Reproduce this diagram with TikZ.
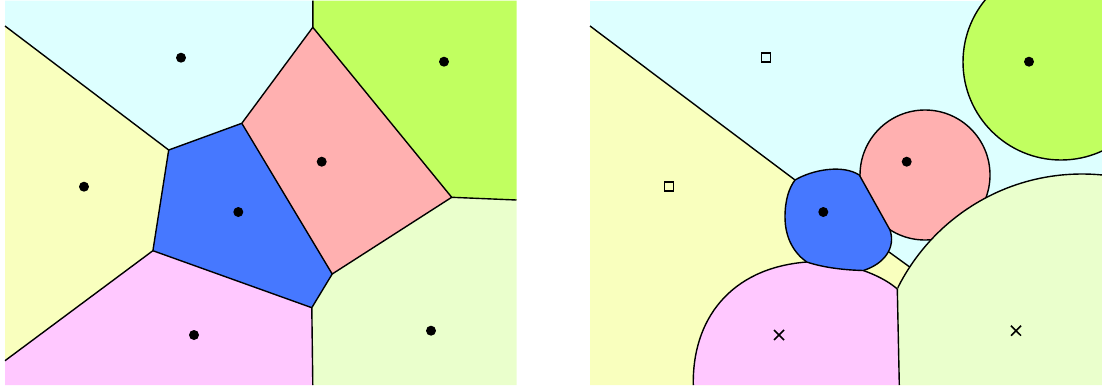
\documentclass[tikz,border=0pt]{standalone}
\usetikzlibrary{shapes.misc}
\definecolor{cCyan}{RGB}{221,255,255}
\definecolor{cYel}{RGB}{249,255,190}
\definecolor{cGrn}{RGB}{193,255,96}
\definecolor{cPink}{RGB}{255,176,176}
\definecolor{cBlue}{RGB}{70,120,255}
\definecolor{cMag}{RGB}{255,200,255}
\definecolor{cLG}{RGB}{234,255,204}
\begin{document}
\begin{tikzpicture}[x=1pt,y=-1pt,
  edge/.style={line width=1.4pt, line join=round, draw=black},
  site/.style={circle, fill=black, inner sep=0pt, minimum size=10pt},
  sqsite/.style={draw=black, rectangle, line width=1.5pt, inner sep=0pt, minimum size=9pt},
  xsite/.style={draw=black, cross out, line width=1.5pt, inner sep=0pt, minimum size=8.5pt}]
\useasboundingbox (0,0) rectangle (1102,388);

% ---------- left panel ----------
\coordinate (LTL) at (5,0.5);
\coordinate (LTR) at (516.5,0.5);
\coordinate (LBR) at (516.5,385);
\coordinate (LBL) at (5,385);
\coordinate (A) at (5,26);
\coordinate (B) at (168.7,150);
\coordinate (C) at (241.8,123.3);
\coordinate (D) at (312.8,27.3);
\coordinate (Dt) at (312.8,0.5);
\coordinate (E) at (451.7,197.3);
\coordinate (Er) at (516.5,200);
\coordinate (F) at (332.2,274);
\coordinate (G) at (311.8,307.7);
\coordinate (Gb) at (312.8,385);
\coordinate (H) at (152.9,250.7);
\coordinate (Hl) at (5,360.7);

\fill[cCyan] (LTL) -- (Dt) -- (D) -- (C) -- (B) -- (A) -- cycle;
\fill[cGrn] (Dt) -- (LTR) -- (Er) -- (E) -- (D) -- cycle;
\fill[cYel] (A) -- (B) -- (H) -- (Hl) -- cycle;
\fill[cBlue] (B) -- (C) -- (F) -- (G) -- (H) -- cycle;
\fill[cPink] (C) -- (D) -- (E) -- (F) -- cycle;
\fill[cLG] (E) -- (Er) -- (LBR) -- (Gb) -- (G) -- (F) -- cycle;
\fill[cMag] (Hl) -- (H) -- (G) -- (Gb) -- (LBL) -- cycle;

\draw[edge] (A) -- (B) -- (C) -- (D) -- (Dt);
\draw[edge] (D) -- (E) -- (Er);
\draw[edge] (E) -- (F) -- (C);
\draw[edge] (F) -- (G) -- (Gb);
\draw[edge] (G) -- (H) -- (B);
\draw[edge] (H) -- (Hl);

\node[site] (l1) at (181,57.7) {};
\node[site] (l2) at (444,61.7) {};
\node[site] (l3) at (84,186.7) {};
\node[site] (l4) at (321.7,161.7) {};
\node[site] (l5) at (238.3,212) {};
\node[site] (l6) at (194,335) {};
\node[site] (l7) at (431,330.7) {};

% ---------- right panel ----------
\coordinate (RA) at (590,26);
\coordinate (BL) at (795,180);
\coordinate (BP) at (859.3,175);
\coordinate (BPb) at (890,230);
\coordinate (BMr) at (863.3,270.5);
\coordinate (BMl) at (806.7,262);
\coordinate (BY) at (889,252);
\coordinate (YL) at (909.7,267);
\coordinate (J) at (897.3,289);
\coordinate (Jb) at (899.3,385);
\coordinate (Mb) at (693.3,385);

\fill[cCyan] (590,0.5) rectangle (1102,385);
\fill[cYel] (RA) -- (BL) -- (840,215) -- (885,249.1) -- (YL) -- (930,290) -- (930,385) -- (590,385) -- cycle;
\filldraw[fill=cPink, edge] (925,175) circle (65);
\begin{scope}
  \clip (590,0.5) rectangle (1102,385);
  \filldraw[fill=cGrn, edge] (1061,62) circle (98);
\end{scope}
\fill[cMag] (Mb) .. controls (692,320) and (730,268) .. (BMl) -- (835,250) -- (BMr)
  .. controls (876,275) and (888,281) .. (J) -- (Jb) -- cycle;
\draw[edge] (Mb) .. controls (692,320) and (730,268) .. (BMl);
\draw[edge] (BMr) .. controls (876,275) and (888,281) .. (J);
\begin{scope}
  \clip (894.4,150) -- (1102,150) -- (1102,385) -- (Jb) -- cycle;
  \filldraw[fill=cLG, edge] (1082,380) circle (206);
\end{scope}
\filldraw[fill=cBlue, edge] (BL) .. controls (812,170) and (842,164) .. (BP) -- (BPb)
  .. controls (896,248) and (884,264) .. (BMr)
  .. controls (845,270) and (825,268) .. (BMl)
  .. controls (794,253) and (785,238) .. (785,217)
  .. controls (785,200) and (789,188) .. (BL) -- cycle;
\draw[edge] (RA) -- (BL);
\draw[edge] (BY) -- (YL);
\draw[edge] (J) -- (Jb);

\node[sqsite] (r1) at (766,57.7) {};
\node[site] (r2) at (1029,61.7) {};
\node[sqsite] (r3) at (669,186.7) {};
\node[site] (r4) at (906.7,161.7) {};
\node[site] (r5) at (823.3,212) {};
\node[xsite] (r6) at (779,335) {};
\node[xsite] (r7) at (1016,330.7) {};
\end{tikzpicture}
\end{document}
